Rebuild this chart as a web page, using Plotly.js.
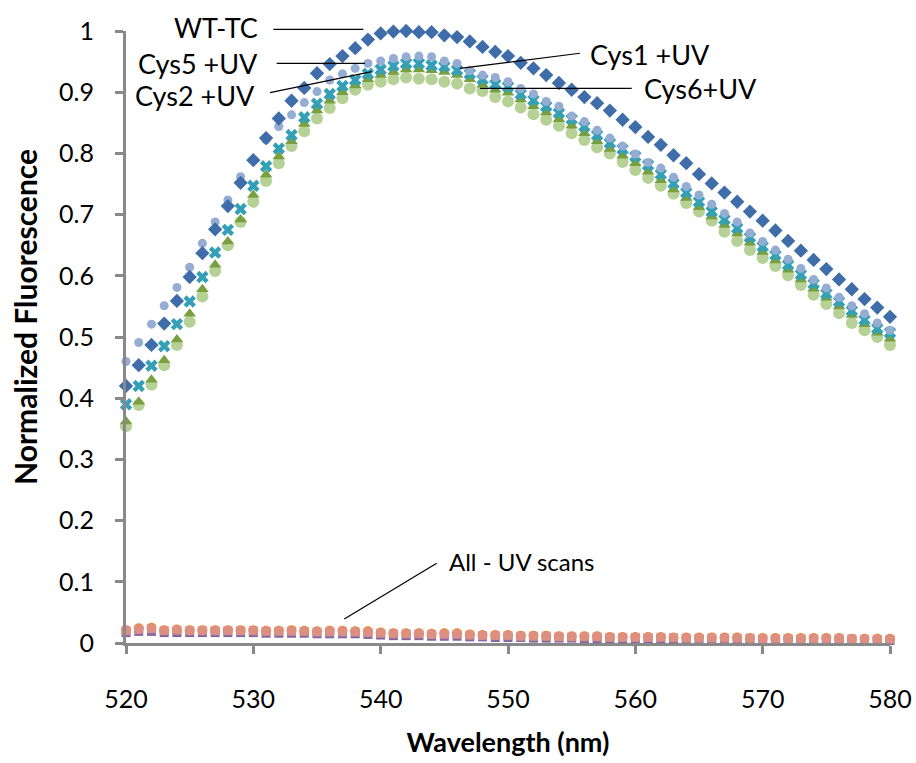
<!DOCTYPE html>
<html>
<head>
<meta charset="utf-8">
<script src="https://cdn.plot.ly/plotly-3.0.1.min.js"></script>
<style>html,body{margin:0;padding:0;background:#fff;}#chart{width:916px;height:763px;}</style>
</head>
<body>
<div id="chart"></div>
<script>
// Wavelengths (nm)
const wavelength = [520,521,522,523,524,525,526,527,528,529,530,531,532,533,534,535,536,537,538,539,540,541,542,543,544,545,546,547,548,549,550,551,552,553,554,555,556,557,558,559,560,561,562,563,564,565,566,567,568,569,570,571,572,573,574,575,576,577,578,579,580];

const wtTC = [0.420,0.454,0.487,0.522,0.559,0.598,0.637,0.676,0.714,0.752,0.789,0.825,0.857,0.886,0.907,0.931,0.946,0.959,0.972,0.986,0.996,0.999,1.000,0.998,0.998,0.993,0.990,0.983,0.974,0.966,0.959,0.948,0.939,0.928,0.915,0.904,0.892,0.882,0.870,0.855,0.843,0.827,0.814,0.797,0.784,0.766,0.751,0.736,0.721,0.705,0.690,0.674,0.657,0.641,0.626,0.611,0.594,0.578,0.562,0.548,0.533];

const cys5UV = [0.460,0.491,0.521,0.551,0.581,0.614,0.653,0.688,0.724,0.762,0.790,0.822,0.844,0.863,0.883,0.901,0.920,0.930,0.939,0.947,0.951,0.955,0.958,0.959,0.958,0.951,0.947,0.935,0.928,0.924,0.917,0.906,0.897,0.885,0.877,0.861,0.852,0.838,0.825,0.812,0.799,0.785,0.776,0.761,0.746,0.732,0.717,0.702,0.688,0.670,0.656,0.642,0.627,0.612,0.594,0.580,0.565,0.551,0.538,0.523,0.511];

const cys1UV = [0.390,0.420,0.453,0.485,0.521,0.558,0.598,0.638,0.675,0.709,0.747,0.779,0.808,0.830,0.859,0.881,0.897,0.910,0.920,0.930,0.937,0.943,0.947,0.947,0.944,0.942,0.936,0.930,0.921,0.913,0.909,0.897,0.887,0.877,0.866,0.856,0.844,0.830,0.817,0.807,0.795,0.781,0.766,0.751,0.736,0.721,0.705,0.692,0.678,0.663,0.648,0.634,0.618,0.602,0.587,0.571,0.558,0.543,0.528,0.514,0.507];

const cys2UV = [0.362,0.394,0.430,0.462,0.496,0.538,0.578,0.618,0.656,0.692,0.732,0.765,0.795,0.820,0.848,0.870,0.886,0.900,0.911,0.921,0.928,0.933,0.937,0.937,0.936,0.933,0.928,0.921,0.912,0.904,0.899,0.888,0.877,0.867,0.856,0.845,0.833,0.820,0.807,0.796,0.784,0.770,0.756,0.741,0.727,0.712,0.697,0.683,0.669,0.654,0.639,0.625,0.610,0.594,0.579,0.564,0.550,0.536,0.521,0.507,0.497];

const cys6UV = [0.354,0.389,0.422,0.454,0.487,0.525,0.566,0.608,0.650,0.688,0.721,0.755,0.784,0.812,0.836,0.857,0.874,0.890,0.904,0.912,0.917,0.921,0.924,0.922,0.921,0.917,0.914,0.906,0.902,0.892,0.885,0.875,0.864,0.855,0.845,0.833,0.822,0.810,0.800,0.786,0.773,0.760,0.747,0.734,0.719,0.705,0.690,0.672,0.657,0.642,0.629,0.616,0.601,0.585,0.569,0.554,0.539,0.523,0.511,0.500,0.487];

// "All - UV" scans (no UV treatment)
const minusUV_a = [0.021,0.024,0.025,0.021,0.022,0.021,0.021,0.021,0.021,0.021,0.021,0.020,0.020,0.021,0.020,0.019,0.020,0.020,0.019,0.019,0.017,0.016,0.016,0.016,0.015,0.016,0.016,0.014,0.013,0.013,0.013,0.012,0.012,0.012,0.011,0.011,0.011,0.011,0.010,0.010,0.010,0.010,0.010,0.009,0.009,0.009,0.009,0.009,0.009,0.008,0.008,0.008,0.008,0.008,0.008,0.008,0.008,0.007,0.007,0.007,0.007];
const minusUV_b = [0.020,0.022,0.023,0.020,0.021,0.020,0.020,0.020,0.020,0.020,0.020,0.019,0.019,0.019,0.019,0.018,0.018,0.018,0.018,0.017,0.016,0.015,0.015,0.015,0.014,0.014,0.014,0.013,0.012,0.012,0.012,0.011,0.011,0.011,0.010,0.010,0.010,0.010,0.009,0.009,0.009,0.009,0.009,0.009,0.008,0.008,0.008,0.008,0.008,0.008,0.007,0.007,0.007,0.007,0.007,0.007,0.007,0.007,0.006,0.006,0.006];
const minusUV_c = [0.017,0.019,0.019,0.017,0.017,0.017,0.017,0.017,0.017,0.017,0.017,0.016,0.016,0.016,0.016,0.015,0.015,0.015,0.015,0.014,0.013,0.012,0.012,0.012,0.011,0.011,0.011,0.010,0.010,0.009,0.009,0.009,0.008,0.008,0.008,0.008,0.007,0.007,0.007,0.007,0.007,0.007,0.006,0.006,0.006,0.006,0.006,0.006,0.005,0.005,0.005,0.005,0.005,0.005,0.005,0.005,0.005,0.004,0.004,0.004,0.004];

const xTicks = [520,530,540,550,560,570,580];
const yTicks = [0,0.1,0.2,0.3,0.4,0.5,0.6,0.7,0.8,0.9,1];

function series(name, y, symbol, size, color, opacity) {
  return {x: wavelength, y: y, name: name, type: 'scatter', mode: 'markers', cliponaxis: false,
          marker: {symbol: symbol, size: size, color: color, opacity: opacity || 1, line: {width: 0}}};
}

const traces = [
  series('-UV c', minusUV_c, 'square', 9, '#7E66A4'),
  series('-UV a', minusUV_a, 'circle', 10, '#EE8A3A'),
  series('-UV b', minusUV_b, 'square', 9, '#D9918F', 0.85),
  series('Cys6 +UV', cys6UV, 'circle', 12, '#B6D195'),
  series('Cys2 +UV', cys2UV, 'triangle-up', 11, '#78A03F'),
  series('Cys1 +UV', cys1UV, 'x', 11, '#34A0B8'),
  series('Cys5 +UV', cys5UV, 'circle', 9, '#95ACD3'),
  series('WT-TC', wtTC, 'diamond', 11, '#3E6DAA')
];

const fam = 'Lato, "Open Sans", sans-serif';
const labelFont = {family: fam, size: 27, color: '#000'};
const axisColor = '#898989';

const leader = (x0, y0, x1, y1) => ({type: 'line', xref: 'paper', yref: 'paper', x0: x0, y0: y0, x1: x1, y1: y1, line: {color: '#000', width: 1.2}});
const label = (text, x, y, anchor, size) => ({text: text, xref: 'paper', yref: 'paper', x: x, y: y, xanchor: anchor, yanchor: 'middle', showarrow: false, font: Object.assign({}, labelFont, size ? {size: size} : {})});

const layout = {
  width: 916, height: 763,
  margin: {l: 126, r: 26, t: 31, b: 120},
  paper_bgcolor: '#fff', plot_bgcolor: '#fff',
  showlegend: false,
  font: {family: fam, color: '#000'},
  xaxis: {
    range: [520, 580], tickvals: xTicks, ticks: 'outside', ticklen: 8, tickwidth: 3, tickcolor: axisColor,
    showline: true, linecolor: axisColor, linewidth: 3, showgrid: false, zeroline: false,
    tickfont: {family: fam, size: 25, color: '#000'}, ticklabelstandoff: 24,
    title: {text: 'Wavelength (nm)', font: {family: fam, size: 27, color: '#000', weight: 'bold'}, standoff: 22}
  },
  yaxis: {
    range: [0, 1], tickvals: yTicks, ticks: 'outside', ticklen: 8, tickwidth: 3, tickcolor: axisColor,
    showline: true, linecolor: axisColor, linewidth: 3, showgrid: false, zeroline: false,
    tickfont: {family: fam, size: 25, color: '#000'}, ticklabelstandoff: 16
  },
  shapes: [
    leader(0.1928, 1.0028, 0.3106, 1.0028),
    leader(0.1972, 0.9472, 0.3128, 0.9472),
    leader(0.1885, 0.8992, 0.3216, 0.9335),
    leader(0.5942, 0.9636, 0.4372, 0.9390),
    leader(0.6619, 0.9064, 0.4634, 0.9064),
    leader(0.4067, 0.1302, 0.2857, 0.0392)
  ],
  annotations: [
    {text: 'Normalized Fluorescence', xref: 'paper', yref: 'paper', x: -0.1322, y: 0.5327, xanchor: 'center', yanchor: 'middle',
     textangle: -90, showarrow: false, font: {family: fam, size: 30, color: '#000', weight: 'bold'}},
    label('WT-TC', 0.1754, 1.0065, 'right'),
    label('Cys5 +UV', 0.1754, 0.9466, 'right'),
    label('Cys2 +UV', 0.1715, 0.8946, 'right'),
    label('Cys1 +UV', 0.6051, 0.9608, 'left'),
    label('Cys6+UV', 0.6750, 0.9064, 'left'),
    label('All - UV scans', 0.4198, 0.1324, 'left', 24)
  ]
};

Plotly.newPlot('chart', traces, layout, {displayModeBar: false, staticPlot: true});
</script>
</body>
</html>
